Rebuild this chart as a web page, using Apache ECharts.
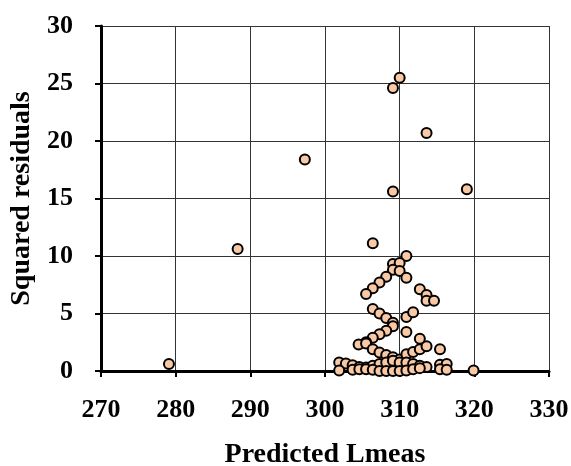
<!DOCTYPE html>
<html>
<head>
<meta charset="utf-8">
<script src="https://cdn.jsdelivr.net/npm/echarts@6/dist/echarts.min.js"></script>
<style>
  html, body { margin: 0; padding: 0; background: #fff; }
  #chart { width: 571px; height: 466px; }
</style>
</head>
<body>
<div id="chart"></div>
<script>
// predicted Lmeas (x) and squared residuals (y)
const predicted = [
    279.1, 288.3, 297.3, 309.1, 310.0, 313.6, 309.1, 319.0, 306.4,
    310.9, 309.1, 310.0, 309.1, 310.0, 310.9, 308.2, 307.3, 306.4, 305.5, 312.7, 313.6, 313.6, 314.6,
    306.4, 307.3, 308.2, 309.1, 309.1, 310.9, 311.8, 310.9, 308.2, 307.3, 306.4, 305.5, 304.5, 305.5,
    306.4, 307.3, 308.2, 309.1, 310.0, 310.9, 311.8, 312.7, 313.6, 312.7, 315.4,
    301.9, 302.8, 303.7, 304.6, 305.5, 306.4, 307.3, 308.2, 309.1, 310.0, 310.9, 311.8, 312.7, 313.6, 315.4, 316.3,
    301.9, 303.7, 304.6, 305.5, 306.4, 307.3, 308.2, 309.1, 310.0, 310.9, 311.8, 312.7, 315.4, 316.3, 319.9
];
const sqResiduals = [
    0.6, 10.6, 18.4, 24.6, 25.5, 20.7, 15.6, 15.8, 11.1,
    10.0, 9.3, 9.4, 8.8, 8.7, 8.1, 8.2, 7.7, 7.2, 6.7, 7.1, 6.6, 6.1, 6.1,
    5.4, 5.0, 4.6, 4.2, 3.9, 4.7, 5.1, 3.4, 3.5, 3.2, 2.9, 2.5, 2.3, 2.4,
    1.9, 1.6, 1.4, 1.2, 1.0, 1.45, 1.65, 1.9, 2.15, 2.8, 1.9,
    0.75, 0.65, 0.5, 0.35, 0.3, 0.45, 0.6, 0.75, 0.9, 0.75, 0.75, 0.6, 0.45, 0.35, 0.55, 0.6,
    0.05, 0.1, 0.15, 0.15, 0.1, 0.0, 0.0, 0.0, 0.0, 0.05, 0.15, 0.25, 0.15, 0.1, 0.05
];
const xTicks = [270, 280, 290, 300, 310, 320, 330];
const yTicks = [0, 5, 10, 15, 20, 25, 30];

const font = '"Liberation Serif", "DejaVu Serif", serif';

let points = predicted.map((x, i) => [x, sqResiduals[i]]);

let ec = echarts.init(document.getElementById('chart'), null, { renderer: 'canvas' });

// axis styling shared by x and y
function axisStyle(labelMargin) {
    return {
        axisLine: { show: true, onZero: false, lineStyle: { color: '#000', width: 3 } },
        axisTick: { show: true, inside: false, length: 6, lineStyle: { color: '#000', width: 2 } },
        splitLine: { show: true, lineStyle: { color: '#333', width: 1 } },
        axisLabel: { color: '#000', fontFamily: font, fontWeight: 'bold', fontSize: 26, margin: labelMargin },
        nameTextStyle: { color: '#000', fontFamily: font, fontWeight: 'bold', fontSize: 28 }
    };
}

let op = {
    animation: false,
    backgroundColor: '#fff',
    grid: {
        left: 101, right: 22, top: 26, bottom: 95,
        containLabel: false,
        outerBoundsMode: 'none'
    },
    xAxis: Object.assign(axisStyle(26), {
        type: 'value',
        min: xTicks[0],
        max: xTicks[xTicks.length - 1],
        interval: 10,
        name: 'Predicted Lmeas',
        nameLocation: 'middle',
        nameGap: 70
    }),
    yAxis: Object.assign(axisStyle(28), {
        type: 'value',
        min: yTicks[0],
        max: yTicks[yTicks.length - 1],
        interval: 5,
        name: 'Squared residuals',
        nameLocation: 'middle',
        nameGap: 64
    }),
    series: [{
        type: 'scatter',
        data: points,
        symbol: 'circle',
        symbolSize: 10,
        itemStyle: { color: '#F9C8A4', borderColor: '#000', borderWidth: 2, opacity: 1 }
    }]
};

ec.setOption(op);
</script>
</body>
</html>
